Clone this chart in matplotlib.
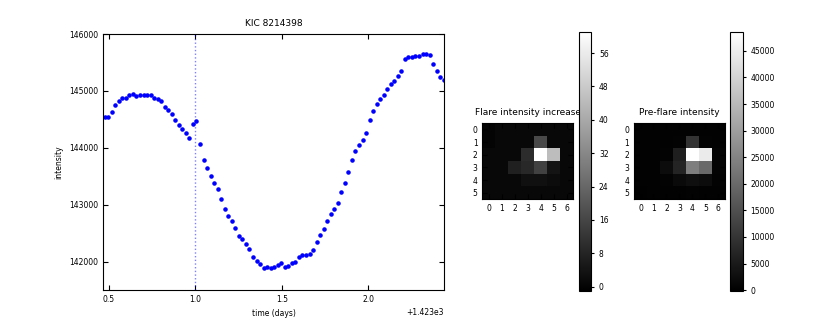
import numpy as np
import matplotlib
matplotlib.use('Agg')
import matplotlib.pyplot as plt

plt.rcParams['font.family'] = ['DejaVu Sans']
plt.rcParams['font.size'] = 5.5
plt.rcParams['axes.titlesize'] = 6.5
plt.rcParams['xtick.direction'] = 'in'
plt.rcParams['ytick.direction'] = 'in'
plt.rcParams['xtick.top'] = True
plt.rcParams['ytick.right'] = True

# light curve of KIC 8214398 (long cadence)
t_start = 1423.475
cadence = 0.02043
flux = [144544, 144550, 144632, 144749, 144825, 144871, 144871, 144930, 144947, 144906,
        144930, 144930, 144930, 144930, 144877, 144860, 144825, 144719, 144667, 144591,
        144480, 144404, 144322, 144257, 144170, 144427, 144468, 144064, 143789, 143637,
        143497, 143386, 143269, 143105, 142930, 142807, 142719, 142591, 142456, 142404,
        142304, 142216, 142088, 142018, 141959, 141895, 141901, 141889, 141901, 141947,
        141971, 141912, 141918, 141971, 141988, 142076, 142117, 142123, 142129, 142199,
        142339, 142462, 142579, 142708, 142836, 142924, 143029, 143222, 143380, 143579,
        143784, 143947, 144041, 144140, 144263, 144485, 144655, 144772, 144865, 144924,
        145029, 145117, 145170, 145257, 145345, 145567, 145596, 145591, 145620, 145620,
        145649, 145649, 145632, 145474, 145357, 145251, 145187]
time = t_start + cadence * np.arange(len(flux))
flare_time = 1424.0

# pixel images (6 rows x 7 columns)
flare_increase = [
    [0, 1, 1, 1, 1, 1, 1],
    [0, 1, 1, 1, 17, 1, 1],
    [1, 1, 1, 10, 61, 45, 1],
    [1, 1, 7, 9, 15, 4, 1],
    [1, 1, 1, 3, 3, 2, 1],
    [1, 1, 1, 1, 1, 1, 1],
]
pre_flare = [
    [300, 300, 300, 300, 400, 300, 300],
    [300, 300, 300, 500, 9700, 600, 300],
    [300, 300, 600, 5800, 48500, 44700, 700],
    [300, 400, 2300, 6800, 24000, 20000, 800],
    [300, 300, 500, 1900, 2900, 2300, 500],
    [100, 300, 300, 400, 500, 400, 300],
]

fig = plt.figure(figsize=(8.3, 3.32), dpi=100)

ax = fig.add_axes([0.124, 0.1265, 0.411, 0.771])
ax.plot(time, flux, 'b.', ms=4.5)
ax.axvline(flare_time, color='b', ls=':', lw=1, alpha=0.5)
ax.set_xlim(1423.465, 1425.438)
ax.set_ylim(141500, 146000)
ax.set_xticks([1423.5, 1424.0, 1424.5, 1425.0])
ax.set_yticks(range(142000, 146001, 1000))
ax.xaxis.get_major_formatter().set_useOffset(1423)
ax.yaxis.get_major_formatter().set_useOffset(False)
ax.set_title('KIC 8214398')
ax.set_xlabel('time (days)')
ax.set_ylabel('intensity')

ax1 = fig.add_axes([0.5813, 0.4006, 0.1093, 0.2289])
im1 = ax1.imshow(flare_increase, cmap='gray', interpolation='nearest', aspect='auto',
                 vmin=-1, vmax=61)
ax1.set_title('Flare intensity increase')
ax1.set_xticks(range(7))
ax1.set_yticks(range(6))
cax1 = fig.add_axes([0.6972, 0.1244, 0.0152, 0.7783])
cb1 = fig.colorbar(im1, cax=cax1, ticks=range(0, 57, 8))

ax2 = fig.add_axes([0.7639, 0.4006, 0.1093, 0.2289])
im2 = ax2.imshow(pre_flare, cmap='gray', interpolation='nearest', aspect='auto',
                 vmin=-100, vmax=48500)
ax2.set_title('Pre-flare intensity')
ax2.set_xticks(range(7))
ax2.set_yticks(range(6))
cax2 = fig.add_axes([0.8795, 0.1244, 0.0153, 0.7783])
cb2 = fig.colorbar(im2, cax=cax2, ticks=range(0, 45001, 5000))

for c in (cax1, cax2):
    c.tick_params(direction='out', length=2, top=False)

plt.savefig('out.png', dpi=100)
